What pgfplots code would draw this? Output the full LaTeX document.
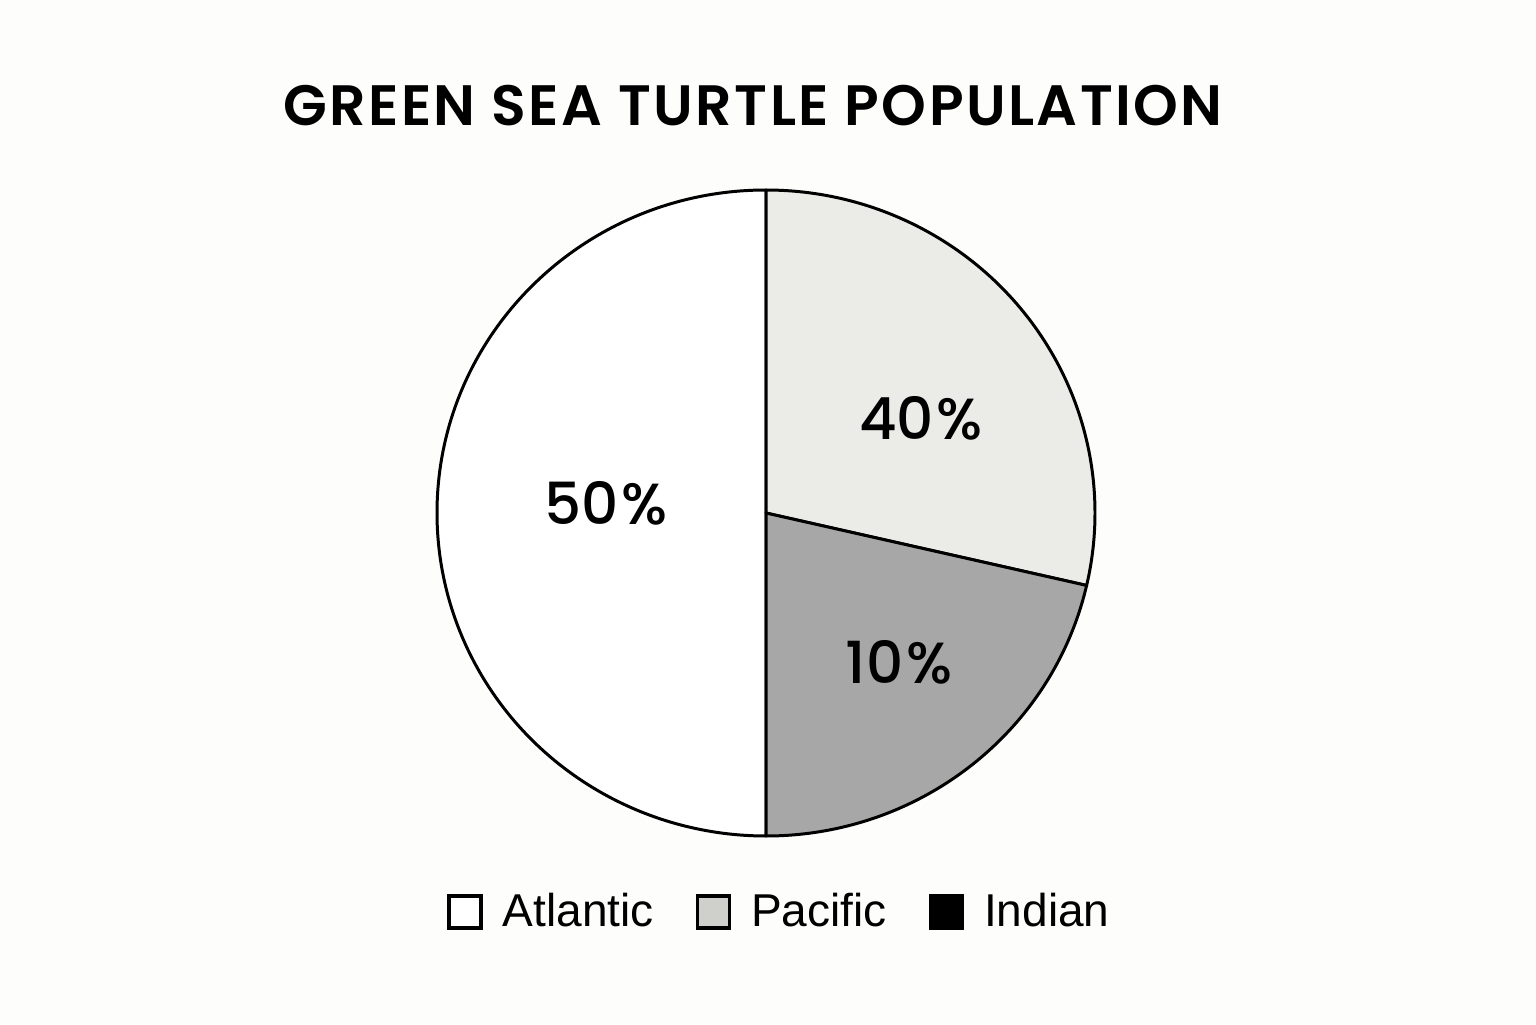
\documentclass[border=0pt]{standalone}
\usepackage{pgfplots}
\usepackage{pgfplotstable}
\pgfplotsset{compat=1.18}
\usepackage{fontspec}
\setmainfont{Liberation Sans}
\newfontfamily\geoT{Poppins SemiBold}[LetterSpace=4.3]
\newfontfamily\geoM{Poppins Medium}
\definecolor{bg}{RGB}{253,253,252}
\definecolor{pacA}{RGB}{235,235,232}
\definecolor{pacB}{RGB}{167,167,167}
\definecolor{legP}{RGB}{207,207,204}

% drawn share of the circle (percent) and printed label
\pgfplotstableread{
region share label lx ly
Atlantic 50 50 606 521
Pacific 28.6 40 921 606
Indian 21.4 10 899 362
}\pietable

\pgfplotstablegetelem{0}{share}\of\pietable \let\sA\pgfplotsretval
\pgfplotstablegetelem{1}{share}\of\pietable \let\sB\pgfplotsretval
\pgfplotstablegetelem{2}{share}\of\pietable \let\sC\pgfplotsretval
\pgfplotstablegetelem{0}{label}\of\pietable \let\lA\pgfplotsretval
\pgfplotstablegetelem{1}{label}\of\pietable \let\lB\pgfplotsretval
\pgfplotstablegetelem{2}{label}\of\pietable \let\lC\pgfplotsretval
\pgfmathsetmacro\aA{90+3.6*\sA}
\pgfmathsetmacro\aB{90-3.6*\sB}
\pgfmathsetmacro\aC{\aB-3.6*\sC}

\def\cx{766}\def\cy{511}
\def\rx{3.29cm}\def\ry{3.23cm}

\begin{document}
\begin{tikzpicture}
\begin{axis}[
  at={(0,0)}, anchor=south west,
  width=15.36cm, height=10.24cm, scale only axis,
  xmin=0, xmax=1536, ymin=0, ymax=1024,
  hide axis, clip=false,
  legend columns=3,
  legend style={draw=none, fill=none, at={(axis cs:782,112)}, anchor=center,
    font=\fontsize{13.1pt}{14pt}\selectfont,
    /tikz/every even column/.append style={column sep=0.35cm}},
  legend image code/.code={\draw[#1, line width=0.9pt] (0cm,-0.16cm) rectangle (0.32cm,0.16cm); \path (0.46cm,0);},
]
\fill[bg] (axis cs:0,0) rectangle (axis cs:1536,1024);

\filldraw[fill=white, draw=black, line width=0.85pt, line join=round]
  (axis cs:\cx,\cy) -- ([shift={(90:\rx\space and \ry)}]axis cs:\cx,\cy)
  arc[start angle=90, end angle=\aA, x radius=\rx, y radius=\ry] -- cycle;
\filldraw[fill=pacA, draw=black, line width=0.85pt, line join=round]
  (axis cs:\cx,\cy) -- ([shift={(90:\rx\space and \ry)}]axis cs:\cx,\cy)
  arc[start angle=90, end angle=\aB, x radius=\rx, y radius=\ry] -- cycle;
\filldraw[fill=pacB, draw=black, line width=0.85pt, line join=round]
  (axis cs:\cx,\cy) -- ([shift={(\aB:\rx\space and \ry)}]axis cs:\cx,\cy)
  arc[start angle=\aB, end angle=\aC, x radius=\rx, y radius=\ry] -- cycle;

\node[font=\geoM\fontsize{16.5pt}{18pt}\selectfont] at (axis cs:606,521) {\lA\kern0.8pt\%};
\node[font=\geoM\fontsize{16.5pt}{18pt}\selectfont] at (axis cs:921,606) {\lB\kern0.8pt\%};
\node[font=\geoM\fontsize{16.5pt}{18pt}\selectfont] at (axis cs:899,362) {\lC\kern0.8pt\%};

\node[font=\geoT\fontsize{16.2pt}{18pt}\selectfont] at (axis cs:753,918) {GREEN SEA TURTLE POPULATION};

\addlegendimage{fill=white, draw=black}
\addlegendentry{Atlantic}
\addlegendimage{fill=legP, draw=black}
\addlegendentry{Pacific}
\addlegendimage{fill=black, draw=black}
\addlegendentry{Indian}
\end{axis}
\end{tikzpicture}
\end{document}
